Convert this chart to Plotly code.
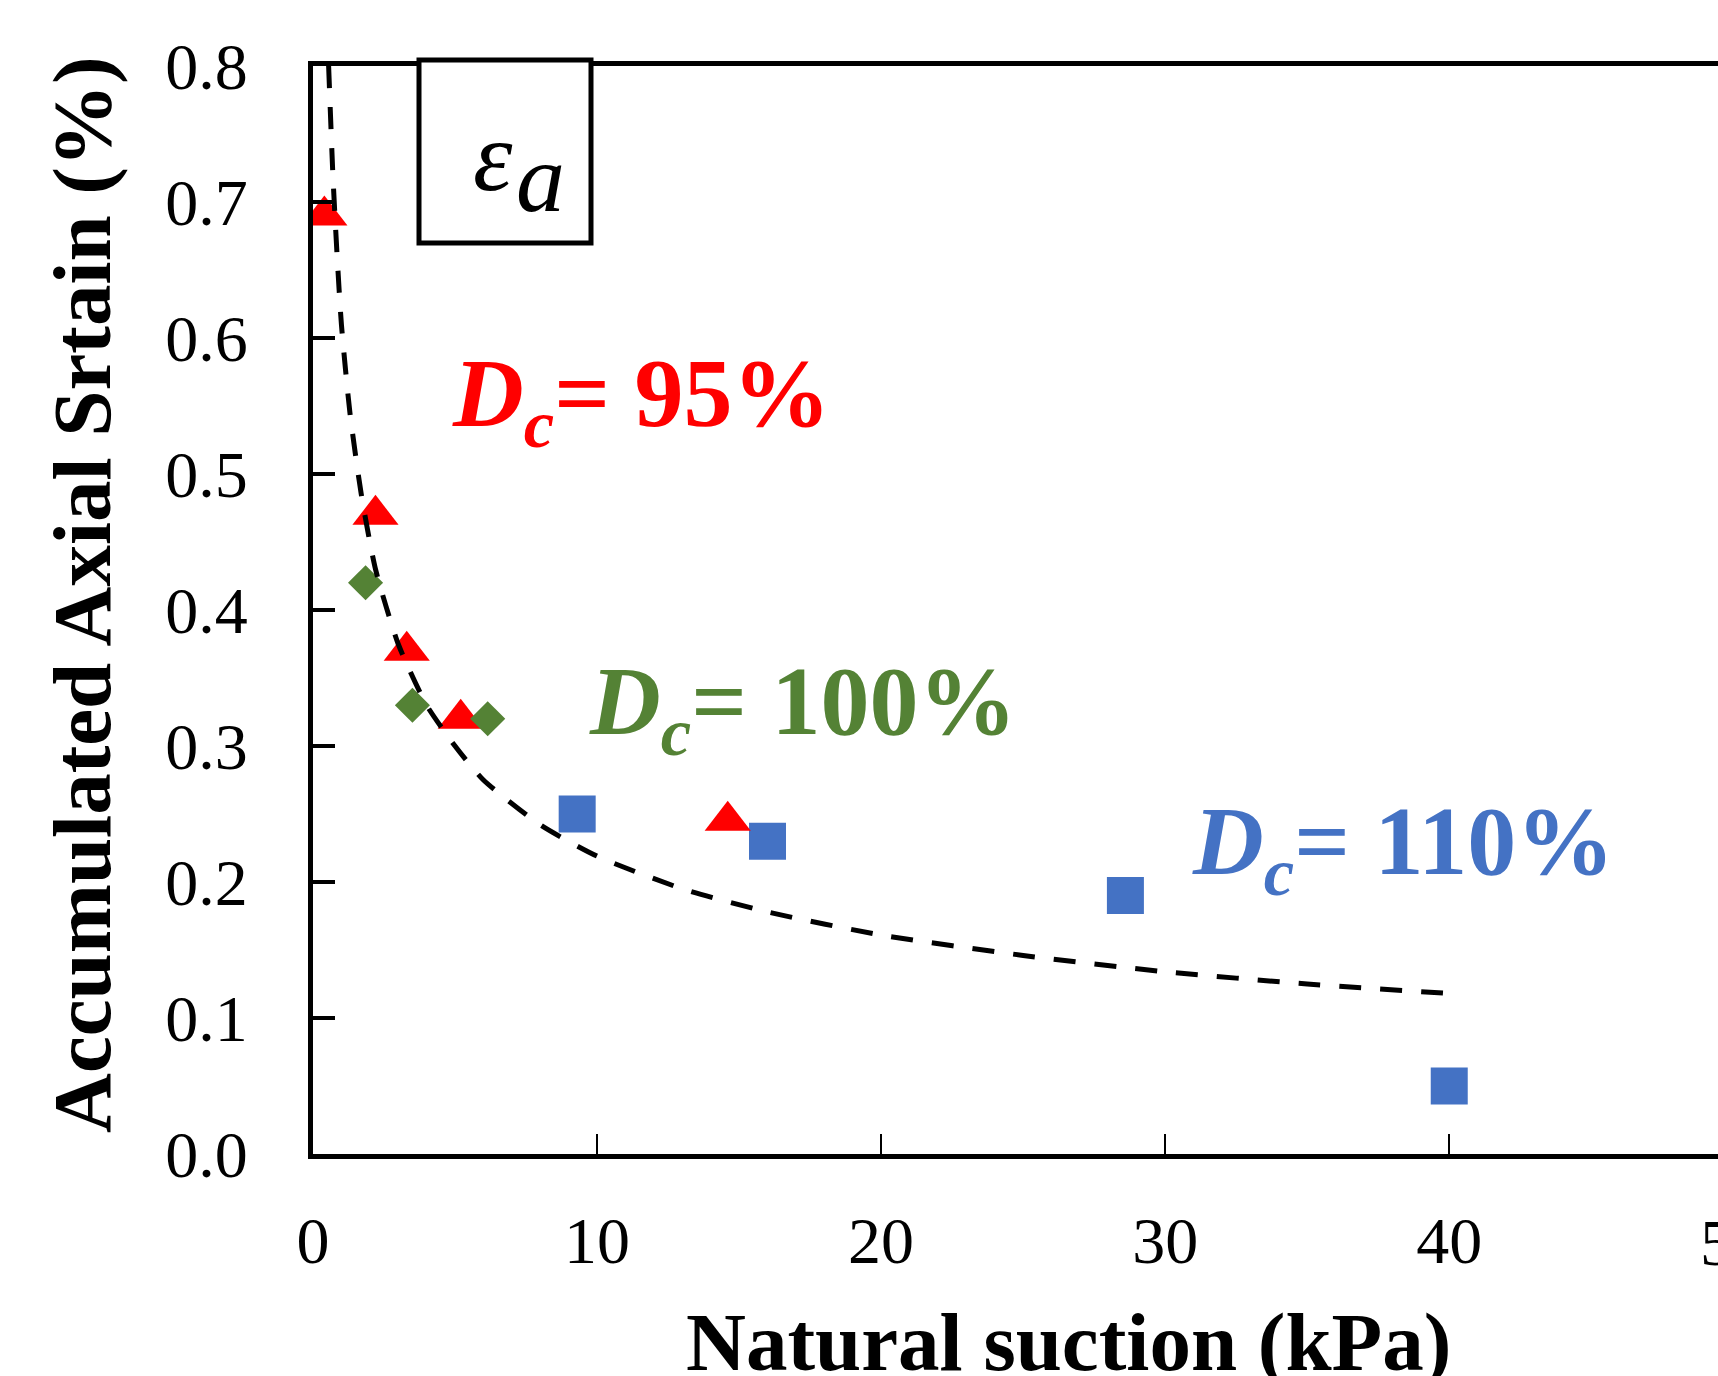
import plotly.graph_objects as go

# ---------------- data ----------------
dc95_x = [0.4, 2.2, 3.3, 5.2, 14.6]
dc95_y = [0.69, 0.47, 0.37, 0.32, 0.245]

dc100_x = [1.85, 3.5, 6.15]
dc100_y = [0.42, 0.33, 0.32]

dc110_x = [9.3, 16.0, 28.6, 40.0]
dc110_y = [0.25, 0.23, 0.19, 0.05]

fit_x = [0.55, 0.7, 0.85, 1.0, 1.3, 1.7, 2.2, 3.0, 4.0, 5.0, 6.0, 8.0, 10.0,
         13.0, 16.0, 20.0, 25.0, 30.0, 35.0, 40.0]
fit_y = [0.80, 0.72, 0.66, 0.61, 0.545, 0.485, 0.43, 0.375, 0.33, 0.30, 0.275,
         0.242, 0.219, 0.195, 0.178, 0.161, 0.146, 0.134, 0.125, 0.118]

x_tickvals = [0, 10, 20, 30, 40, 50]
x_ticktext = ["0", "10", "20", "30", "40", "50"]
y_tickvals = [0.0, 0.1, 0.2, 0.3, 0.4, 0.5, 0.6, 0.7, 0.8]
y_ticktext = ["0.0", "0.1", "0.2", "0.3", "0.4", "0.5", "0.6", "0.7", "0.8"]

x_title = "Natural suction (kPa)"
y_title = "Accumulated Axial Srtain (%)"

RED = "#FF0000"
GREEN = "#548235"
BLUE = "#4472C4"
SERIF = "Liberation Serif, Times New Roman, serif"

W, H = 1718, 1376
ML, MR, MT, MB = 313, 0, 66, 222
PW = W - ML - MR
PH = H - MT - MB
PX_PER_UNIT = 28.406  # pixels per kPa on the x axis

def px(x):
    return (x - ML) / PW


def py(y):
    return (H - MB - y) / PH


fig = go.Figure()

fig.add_trace(go.Scatter(x=dc110_x, y=dc110_y, mode="markers",
                         marker=dict(symbol="square", size=37, color=BLUE,
                                     line=dict(width=0)),
                         showlegend=False))
fig.add_trace(go.Scatter(x=dc95_x, y=dc95_y, mode="markers",
                         marker=dict(symbol="triangle-up", size=40, color=RED,
                                     line=dict(width=0)),
                         showlegend=False))
fig.add_trace(go.Scatter(x=dc100_x, y=dc100_y, mode="markers",
                         marker=dict(symbol="diamond", size=27, color=GREEN,
                                     line=dict(width=0)),
                         showlegend=False))
fig.add_trace(go.Scatter(x=fit_x, y=fit_y, mode="lines",
                         line=dict(color="black", width=5, dash="22px,19px",
                                   shape="spline", smoothing=0.6),
                         showlegend=False))

x_range_max = (W - ML) / PX_PER_UNIT  # axis continues beyond the right edge

fig.update_layout(
    width=W, height=H,
    margin=dict(l=ML, r=MR, t=MT, b=MB, pad=0),
    paper_bgcolor="white", plot_bgcolor="white",
    font=dict(family=SERIF, color="black"),
    showlegend=False,
    xaxis=dict(range=[0, x_range_max], tickmode="array",
               tickvals=x_tickvals, ticktext=x_ticktext,
               ticks="inside", ticklen=20, tickwidth=2, tickcolor="black",
               showline=True, linewidth=5, linecolor="black", mirror=True,
               showgrid=False, zeroline=False,
               tickfont=dict(family=SERIF, size=66, color="black"),
               ticklabelstandoff=25),
    yaxis=dict(range=[0, 0.8], tickmode="array",
               tickvals=y_tickvals, ticktext=y_ticktext,
               ticks="inside", ticklen=22, tickwidth=4, tickcolor="black",
               showline=True, linewidth=5, linecolor="black",
               showgrid=False, zeroline=False,
               tickfont=dict(family=SERIF, size=66, color="black"),
               ticklabelstandoff=47),
)

# epsilon box
fig.add_shape(type="rect", xref="paper", yref="paper",
              x0=px(419), x1=px(591), y0=py(243), y1=py(60),
              line=dict(color="black", width=5), fillcolor="white", layer="above")

ann = []
ann.append(dict(text="ε", x=px(493), y=py(156), xref="paper", yref="paper",
                showarrow=False, xanchor="center", yanchor="middle",
                font=dict(family=SERIF, size=100, color="black", style="italic")))
ann.append(dict(text="a", x=px(540), y=py(178), xref="paper", yref="paper",
                showarrow=False, xanchor="center", yanchor="middle",
                font=dict(family=SERIF, size=98, color="black", style="italic")))

# "50" tick label that is cut by the right edge of the picture
ann.append(dict(text=x_ticktext[-1], x=px(ML + x_tickvals[-1] * PX_PER_UNIT),
                y=py(1242), xref="paper", yref="paper", showarrow=False,
                xanchor="center", yanchor="middle",
                font=dict(family=SERIF, size=66, color="black")))

ann.append(dict(text="<b>" + y_title + "</b>", x=px(82), y=py(595),
                xref="paper", yref="paper", showarrow=False, textangle=-90,
                xanchor="center", yanchor="middle",
                font=dict(family=SERIF, size=83, color="black")))
ann.append(dict(text="<b>" + x_title + "</b>", x=px(1068), y=py(1342),
                xref="paper", yref="paper", showarrow=False,
                xanchor="center", yanchor="middle",
                font=dict(family=SERIF, size=83, color="black")))


def dc_label(pct, color, cx, cy):
    return dict(text="<b><i>D</i></b><sub><b><i>c</i></b></sub><b>= " + pct + "</b>",
                x=px(cx), y=py(cy), xref="paper", yref="paper",
                showarrow=False, xanchor="center", yanchor="middle",
                font=dict(family=SERIF, size=98, color=color))


ann.append(dc_label("95%", RED, 641, 401))
ann.append(dc_label("100%", GREEN, 803, 708))
ann.append(dc_label("110%", BLUE, 1403, 848))

fig.update_layout(annotations=ann)

fig.write_html("out.html")
